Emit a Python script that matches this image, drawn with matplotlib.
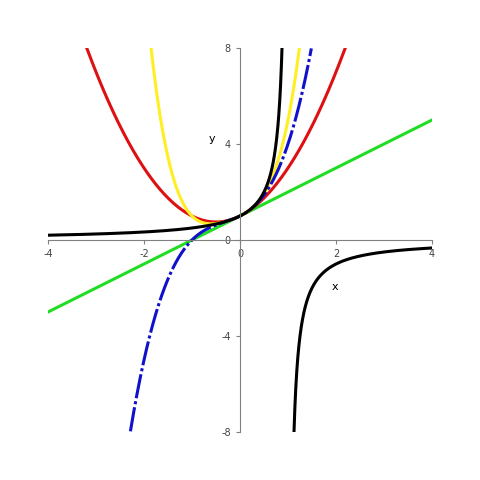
import numpy as np
import matplotlib
matplotlib.use("Agg")
import matplotlib.pyplot as plt

# Taylor polynomial coefficients of 1/(1-x) and the function itself
green_coef = [1, 1]
red_coef = [1, 1, 1]
blue_coef = [1, 1, 1, 1]
yellow_coef = [1, 1, 1, 1, 1]
xticks = [-4, -2, 0, 2, 4]
yticks = [-8, -4, 0, 4, 8]

fig = plt.figure(figsize=(4.8, 4.8), dpi=100)
ax = fig.add_axes([0.1, 0.1, 0.8, 0.8])
x = np.linspace(-4, 4, 2000)

def poly(c, x):
    return sum(ci * x**i for i, ci in enumerate(c))

def clip(y):
    y = y.copy(); y[(y > 8) | (y < -8)] = np.nan; return y

ax.plot(x, clip(poly(green_coef, x)), color="#22dd22", lw=2.2)
ax.plot(x, clip(poly(red_coef, x)), color="#dd1111", lw=2.2)
ax.plot(x, clip(poly(yellow_coef, x)), color="#ffee22", lw=2.2)
ax.plot(x, clip(poly(blue_coef, x)), color="#1111cc", lw=2.2, ls=(0, (8, 1, 1, 1)))
xl = np.linspace(-4, 0.875, 800); xr = np.linspace(1.125, 4, 800)
ax.plot(xl, 1/(1-xl), color="black", lw=2.2)
ax.plot(xr, 1/(1-xr), color="black", lw=2.2)

ax.set_xlim(-4, 4); ax.set_ylim(-8, 8)
for s in ["top", "right"]:
    ax.spines[s].set_visible(False)
ax.spines["left"].set_position(("data", 0))
ax.spines["bottom"].set_position(("data", 0))
ax.set_xticks(xticks); ax.set_yticks(yticks)
ax.set_xticklabels([str(t) for t in xticks]); ax.set_yticklabels([str(t) for t in yticks])
ax.tick_params(labelsize=7, length=3, color="gray", labelcolor="#444444")
ax.spines["left"].set_color("gray"); ax.spines["bottom"].set_color("gray")
ax.text(1.9, -2.1, "x", fontsize=8)
ax.text(-0.65, 4.1, "y", fontsize=8)
fig.savefig("out.png", dpi=100)
